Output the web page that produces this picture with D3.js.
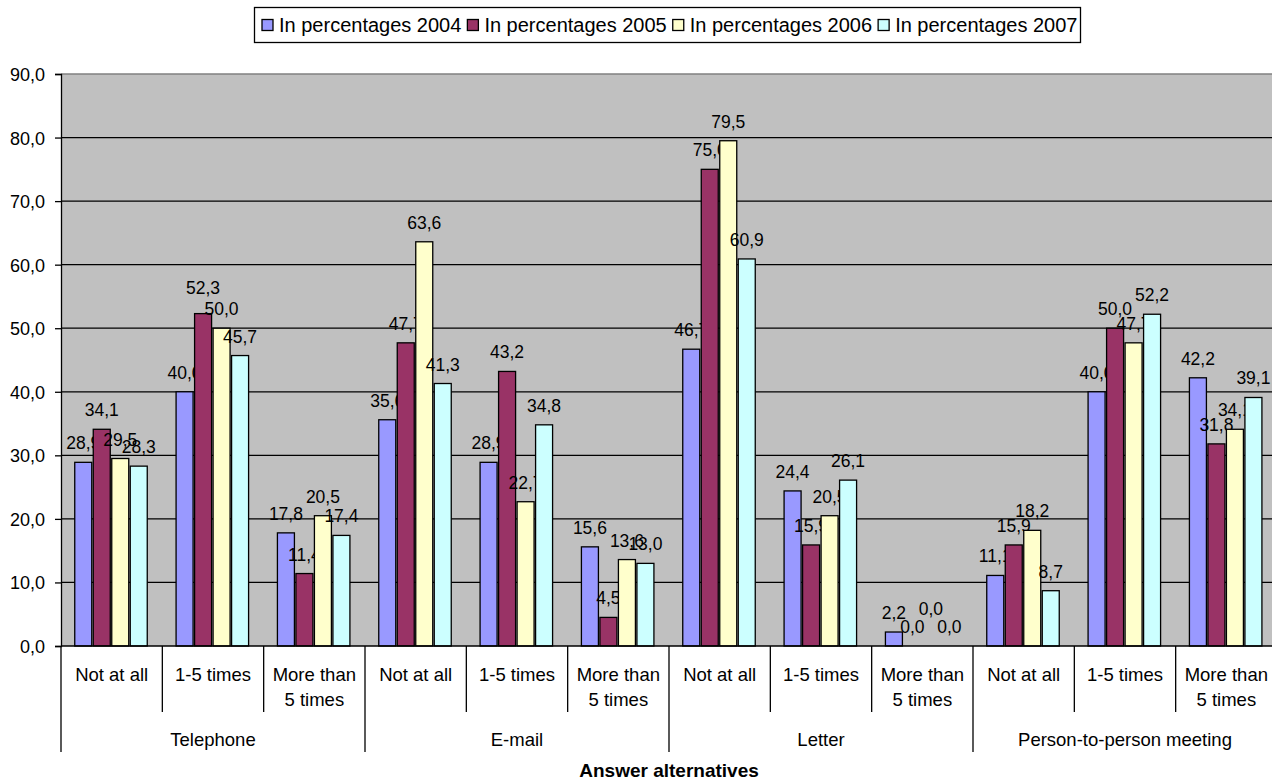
<!DOCTYPE html>
<html>
<head>
<meta charset="utf-8">
<script src="https://cdn.jsdelivr.net/npm/d3@7"></script>
<style>
  body { margin: 0; background: #fff; }
  text { font-family: Arial, "Liberation Sans", sans-serif; fill: #000; }
</style>
</head>
<body>
<script>
// data
var groups = ["Telephone", "E-mail", "Letter", "Person-to-person meeting"];
var answers = ["Not at all", "1-5 times", "More than 5 times"];
var seriesNames = ["In percentages 2004", "In percentages 2005", "In percentages 2006", "In percentages 2007"];
var values2004 = [28.9, 40.0, 17.8, 35.6, 28.9, 15.6, 46.7, 24.4, 2.2, 11.1, 40.0, 42.2];
var values2005 = [34.1, 52.3, 11.4, 47.7, 43.2, 4.5, 75.0, 15.9, 0.0, 15.9, 50.0, 31.8];
var values2006 = [29.5, 50.0, 20.5, 63.6, 22.7, 13.6, 79.5, 20.5, 0.0, 18.2, 47.7, 34.1];
var values2007 = [28.3, 45.7, 17.4, 41.3, 34.8, 13.0, 60.9, 26.1, 0.0, 8.7, 52.2, 39.1];
var yTicks = [0, 10, 20, 30, 40, 50, 60, 70, 80, 90];

var colors = ["#9999ff", "#993366", "#ffffcc", "#ccffff"];
var allValues = [values2004, values2005, values2006, values2007];

// Excel pushed a couple of overlapping labels up
var labelLift = { "2-8": 18, "1-1": 7 };

var width = 1272, height = 781;
var plotLeft = 61, plotRight = 1277, plotTop = 74, plotBottom = 646;

var svg = d3.select("body").append("svg")
    .attr("width", width)
    .attr("height", height);

var keys = [];
groups.forEach(function (g) {
    answers.forEach(function (a) { keys.push(g + "|" + a); });
});

var x0 = d3.scaleBand().domain(keys).range([plotLeft, plotRight]);
var x1 = d3.scaleBand().domain(d3.range(seriesNames.length)).range([13, 87]);
var y = d3.scaleLinear().domain([0, 90]).range([plotBottom, plotTop]);

var fmt = function (v) { return d3.format(".1f")(v).replace(".", ","); };

// plot area
svg.append("rect")
    .attr("x", plotLeft).attr("y", plotTop)
    .attr("width", plotRight - plotLeft).attr("height", plotBottom - plotTop)
    .attr("fill", "#c0c0c0");

// gridlines
svg.append("g").selectAll("line")
    .data(yTicks.filter(function (t) { return t > 0; }))
    .enter().append("line")
    .attr("x1", plotLeft).attr("x2", plotRight)
    .attr("y1", function (d) { return y(d); })
    .attr("y2", function (d) { return y(d); })
    .attr("stroke", function (d) { return d === 90 ? "#808080" : "#000"; })
    .attr("stroke-width", 1.3);

// y axis
var yAxis = d3.axisLeft(y).tickValues(yTicks).tickSize(6).tickPadding(10).tickFormat(fmt);
var gy = svg.append("g")
    .attr("transform", "translate(" + plotLeft + ",0)")
    .call(yAxis);
gy.select(".domain").attr("stroke", "#000").attr("stroke-width", 1.3);
gy.selectAll(".tick line").attr("stroke", "#000").attr("stroke-width", 1.3);
gy.selectAll(".tick text").style("font-size", "18px").attr("dy", "0.36em");

// bars + labels, series by series
allValues.forEach(function (vals, s) {
    var g = svg.append("g");
    g.selectAll("rect")
        .data(vals)
        .enter().append("rect")
        .attr("x", function (d, i) { return x0(keys[i]) + x1(s) + 0.75; })
        .attr("y", function (d) { return y(d); })
        .attr("width", x1.bandwidth() - 1.5)
        .attr("height", function (d) { return plotBottom - y(d); })
        .attr("fill", colors[s])
        .attr("stroke", "#000")
        .attr("stroke-width", 1.3);
    g.selectAll("text")
        .data(vals)
        .enter().append("text")
        .attr("x", function (d, i) { return x0(keys[i]) + x1(s) + x1.bandwidth() / 2; })
        .attr("y", function (d, i) { return y(d) - 13 - (labelLift[s + "-" + i] || 0); })
        .attr("text-anchor", "middle")
        .style("font-size", "17.5px")
        .text(fmt);
});

// category axis
svg.append("line")
    .attr("x1", plotLeft).attr("x2", plotRight)
    .attr("y1", plotBottom).attr("y2", plotBottom)
    .attr("stroke", "#000").attr("stroke-width", 1.3);

var catAxis = svg.append("g");
keys.forEach(function (k, i) {
    var isGroupEdge = i % answers.length === 0;
    catAxis.append("line")
        .attr("x1", x0(k)).attr("x2", x0(k))
        .attr("y1", plotBottom).attr("y2", isGroupEdge ? 752 : 712)
        .attr("stroke", "#000").attr("stroke-width", 1.3);
    var label = k.split("|")[1];
    var lines = label === "More than 5 times" ? ["More than", "5 times"] : [label];
    var t = catAxis.append("text")
        .attr("text-anchor", "middle")
        .style("font-size", "18.5px");
    lines.forEach(function (ln, j) {
        t.append("tspan")
            .attr("x", x0(k) + x0.bandwidth() / 2)
            .attr("y", 681 + j * 25)
            .text(ln);
    });
});
catAxis.append("line")
    .attr("x1", plotRight).attr("x2", plotRight)
    .attr("y1", plotBottom).attr("y2", 752)
    .attr("stroke", "#000").attr("stroke-width", 1.3);

groups.forEach(function (g) {
    var first = x0(g + "|" + answers[0]);
    var last = x0(g + "|" + answers[answers.length - 1]) + x0.bandwidth();
    catAxis.append("text")
        .attr("x", (first + last) / 2)
        .attr("y", 746)
        .attr("text-anchor", "middle")
        .style("font-size", "18.5px")
        .text(g);
});

svg.append("text")
    .attr("x", (plotLeft + plotRight) / 2)
    .attr("y", 777)
    .attr("text-anchor", "middle")
    .style("font-size", "19px")
    .style("font-weight", "bold")
    .text("Answer alternatives");

// legend
var legend = svg.append("g");
legend.append("rect")
    .attr("x", 254.5).attr("y", 7.5)
    .attr("width", 826).attr("height", 35)
    .attr("fill", "#fff").attr("stroke", "#000").attr("stroke-width", 1.3);
var lx = 262;
seriesNames.forEach(function (name, s) {
    legend.append("rect")
        .attr("x", lx).attr("y", 19.5)
        .attr("width", 11).attr("height", 11)
        .attr("fill", colors[s]).attr("stroke", "#000").attr("stroke-width", 1.3);
    var t = legend.append("text")
        .attr("x", lx + 17).attr("y", 32)
        .style("font-size", "20px")
        .text(name);
    lx += 17 + t.node().getComputedTextLength() + 6;
});
</script>
</body>
</html>
